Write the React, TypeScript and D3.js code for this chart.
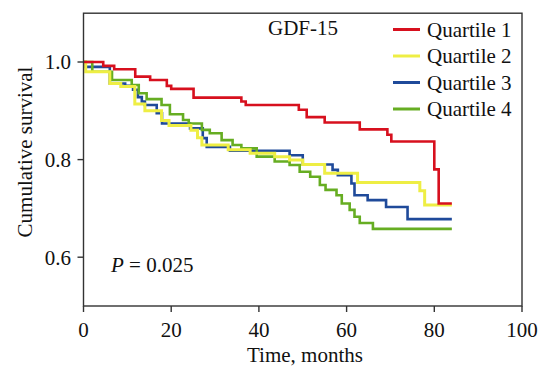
import React from "react";
import * as d3 from "d3";

// Kaplan-Meier step data: [months, cumulative survival]
const quartile1: [number, number][] = [
  [0, 1.0], [4.5, 0.992], [7, 0.985], [11.8, 0.97], [15.2, 0.963], [19, 0.951], [20, 0.945],
  [25.1, 0.927], [36, 0.919], [37, 0.912], [49.1, 0.902], [50.9, 0.887], [55, 0.876],
  [63, 0.862], [69.3, 0.851], [70.2, 0.837], [80, 0.78], [81, 0.71], [84, 0.71],
];
const quartile2: [number, number][] = [
  [0, 1.0], [0.5, 0.98], [6, 0.956], [8.5, 0.95], [11.7, 0.914], [14, 0.9], [17.8, 0.88],
  [19.5, 0.87], [24.5, 0.86], [26, 0.845], [27, 0.83], [33, 0.82], [38, 0.813], [43.6, 0.806],
  [47, 0.799], [50, 0.79], [55, 0.772], [62.5, 0.753], [76.7, 0.736], [77.8, 0.707], [84, 0.707],
];
const quartile3: [number, number][] = [
  [0, 1.0], [0.5, 0.99], [6, 0.956], [9.5, 0.951], [11.3, 0.943], [12.4, 0.928], [13.3, 0.919],
  [14, 0.912], [16.7, 0.895], [17.9, 0.874], [24.3, 0.864], [27.2, 0.844], [28.1, 0.826],
  [33.4, 0.818], [47, 0.809], [50, 0.79], [56.8, 0.779], [58, 0.768], [61.1, 0.751],
  [61.8, 0.727], [64.8, 0.717], [69, 0.703], [73.9, 0.678], [84, 0.678],
];
const quartile4: [number, number][] = [
  [0, 1.0], [2, 0.98], [6.5, 0.963], [11, 0.953], [12.6, 0.936], [14.4, 0.924], [17.8, 0.912],
  [19.7, 0.893], [22.7, 0.881], [24, 0.874], [27, 0.861], [28.8, 0.854], [31.5, 0.84],
  [34, 0.83], [36, 0.823], [39.5, 0.806], [43.6, 0.796], [47, 0.789], [49.3, 0.775],
  [51.7, 0.765], [53.9, 0.748], [55.2, 0.738], [57.7, 0.727], [58.9, 0.71], [60.7, 0.697],
  [61.8, 0.683], [63, 0.67], [66, 0.658], [84, 0.658],
];

const seriesNames = ["Quartile 1", "Quartile 2", "Quartile 3", "Quartile 4"];
const seriesColors = ["#d7101e", "#eeee44", "#1f4a9a", "#66ad22"];
const seriesData = [quartile1, quartile2, quartile3, quartile4];
const drawOrder = [2, 3, 1, 0];

const xTicks = [0, 20, 40, 60, 80, 100];
const yTicks = [0.6, 0.8, 1.0];

export default function App() {
  const W = 549, H = 369;
  const x = d3.scaleLinear().domain([0, 100]).range([83.5, 522]);
  const y = d3.scaleLinear().domain([0.5, 1.1]).range([306, 13.2]);
  const line = d3
    .line<[number, number]>()
    .x((d) => x(d[0]))
    .y((d) => y(d[1]))
    .curve(d3.curveStepAfter);
  const font = "'Liberation Serif', 'Times New Roman', serif";
  const axisColor = "#333";
  const x0 = x(0), x1 = x(100), yb = y(0.5), yt = y(1.1);
  const fs = 21;

  return (
    <svg width={W} height={H} style={{ position: "absolute", left: 0, top: 0 }} fontFamily={font}>
      <rect width={W} height={H} fill="#fff" />
      {drawOrder.map((i) => (
        <path key={i} d={line(seriesData[i]) || ""} fill="none" stroke={seriesColors[i]}
          strokeWidth={i === 1 ? 3 : 2.6} strokeLinejoin="miter" />
      ))}
      {/* frame */}
      <rect x={x0} y={yt} width={x1 - x0} height={yb - yt} fill="none" stroke={axisColor} strokeWidth={1.4} />
      {xTicks.map((t) => (
        <g key={t}>
          <line x1={x(t)} x2={x(t)} y1={yb} y2={yb + 6} stroke={axisColor} strokeWidth={1.4} />
          <text x={x(t)} y={337} textAnchor="middle" fontSize={fs} fill="#111">{t}</text>
        </g>
      ))}
      {yTicks.map((t) => (
        <g key={t}>
          <line x1={x0 - 6} x2={x0} y1={y(t)} y2={y(t)} stroke={axisColor} strokeWidth={1.4} />
          <text x={71} y={y(t)} dy="0.35em" textAnchor="end" fontSize={fs} fill="#111">{t.toFixed(1)}</text>
        </g>
      ))}
      <text x={305} y={362} textAnchor="middle" fontSize={fs} fill="#111">Time, months</text>
      <text transform={`translate(32,${152}) rotate(-90)`} textAnchor="middle" fontSize={fs} fill="#111">
        Cumulative survival
      </text>
      <text x={268} y={35} fontSize={fs} fill="#111">GDF-15</text>
      {seriesNames.map((n, i) => {
        const ly = 29.5 + i * 26.5;
        return (
          <g key={n}>
            <line x1={393} x2={420} y1={ly} y2={ly} stroke={seriesColors[i]} strokeWidth={3} />
            <text x={427} y={ly} dy="0.35em" fontSize={fs} fill="#111">{n}</text>
          </g>
        );
      })}
      <text x={111} y={272} fontSize={fs} fill="#111">
        <tspan fontStyle="italic">P</tspan> = 0.025
      </text>
    </svg>
  );
}
